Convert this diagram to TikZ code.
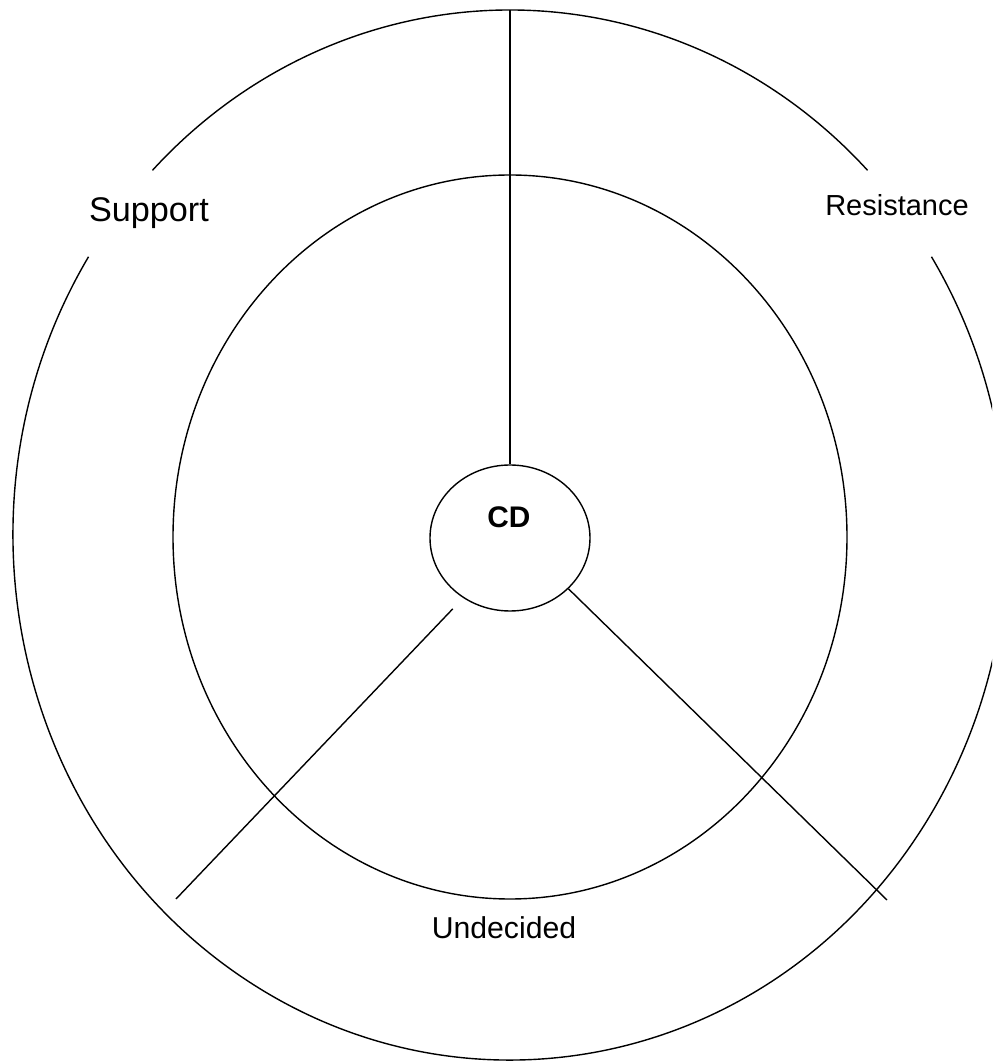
\documentclass[tikz,border=0pt]{standalone}
\usepackage{fontspec}
\setmainfont{Liberation Sans}
\usetikzlibrary{shapes.geometric}

\begin{document}
\begin{tikzpicture}[x=0.5pt,y=0.5pt,line width=0.7pt,
  hub/.style={draw,ellipse,minimum width=80pt,minimum height=73pt,inner sep=0pt},
  word/.style={anchor=base,inner sep=0pt}]
\clip (0,0) rectangle (992,1061);
\coordinate (mid) at (510,526);
\coordinate (core) at (510,524);
\coordinate (top) at (510,1051);
\coordinate (swend) at (176,162);
\coordinate (seend) at (887,161);
% outer ring, open behind the two upper labels
\draw ([shift={(44:497 and 525)}]mid) arc[start angle=44,end angle=136,x radius=497,y radius=525];
\draw ([shift={(148:497 and 525)}]mid) arc[start angle=148,end angle=392,x radius=497,y radius=525];
% inner ring
\draw (core) ellipse[x radius=337,y radius=362];
\node[hub] (cd) at (510,523) {};
\node[word,font=\fontsize{14.9}{16}\selectfont\bfseries] (cdname) at (509,533) {CD};
\draw (top) -- (cd.north);
\draw[shorten <=7.5pt] (cd.-128) -- (swend);
\draw (cd.-41) -- (seend);
\node[word,font=\fontsize{17.1}{19}\selectfont] (support) at (149,839) {Support};
\node[word,font=\fontsize{14.5}{17}\selectfont] (resist) at (897,845) {Resistance};
\node[word,font=\fontsize{15.1}{17}\selectfont] (undecided) at (504,122) {Undecided};
\end{tikzpicture}
\end{document}
